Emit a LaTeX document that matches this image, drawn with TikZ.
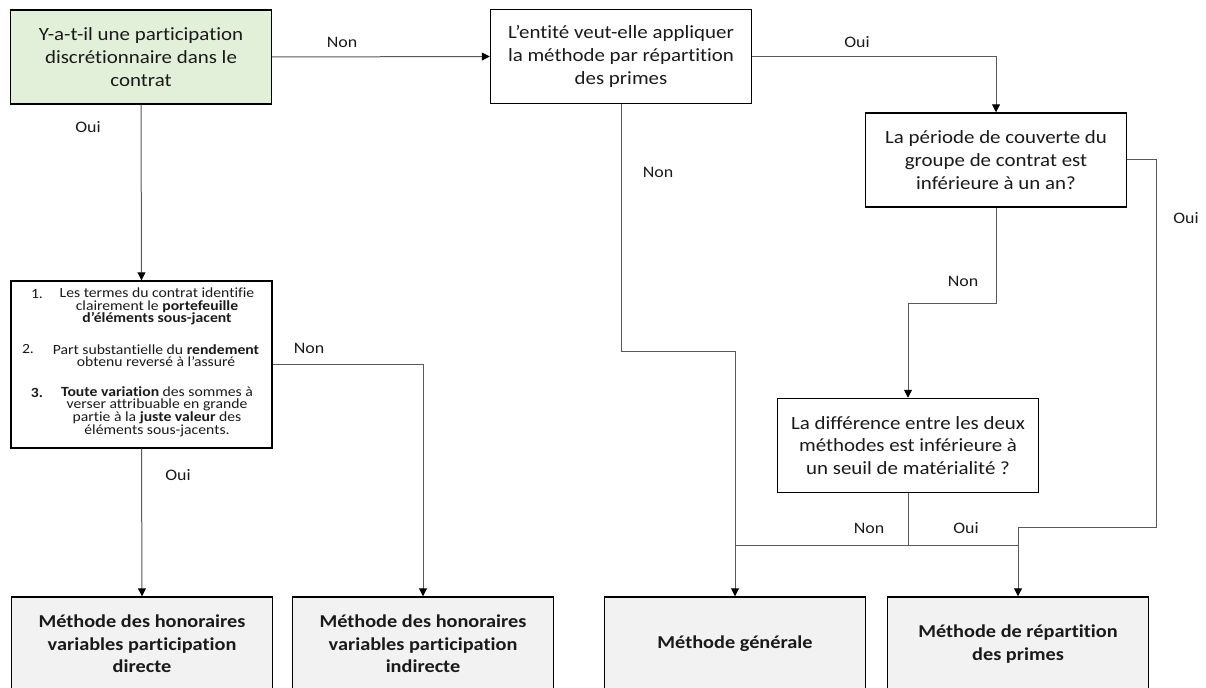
\documentclass[tikz,border=0pt]{standalone}
\usepackage{fontspec}
\setmainfont{Carlito}[FakeStretch=1.12, Ligatures=NoCommon]
\usetikzlibrary{arrows.meta}
\definecolor{boxgreen}{HTML}{E2F0D9}
\definecolor{boxgray}{HTML}{F2F2F2}
\definecolor{wirecol}{HTML}{595959}
\definecolor{ink}{HTML}{1A1A1A}

\begin{document}
\begin{tikzpicture}[x=0.75pt,y=-0.75pt,
  box/.style={draw=black, line width=1.1pt, minimum width=195.75pt,
    minimum height=70.5pt, inner sep=0pt, align=center,
    font=\fontsize{14}{17}\selectfont, text=ink},
  question/.style={box, fill=white},
  startbox/.style={box, fill=boxgreen},
  result/.style={box, fill=boxgray, font=\fontsize{13.6}{17}\selectfont\bfseries},
  critbox/.style={box, fill=white, minimum height=125.25pt},
  wire/.style={draw=wirecol, line width=0.75pt},
  arrow/.style={wire, -{Triangle[length=6pt,width=6pt,color=black]}},
  lbl/.style={font=\fontsize{12}{14}\selectfont, text=ink, inner sep=0pt},
  crit/.style={font=\fontsize{10.5}{9.4}\selectfont, align=center, text=ink, inner sep=0pt},
  num/.style={font=\fontsize{10.5}{9.4}\selectfont, text=ink, inner sep=0pt},
]
\useasboundingbox (0,0) rectangle (1206,688);

% decision boxes
\node[startbox] (A) at (141,57) {Y-a-t-il une participation\\discrétionnaire dans le\\contrat};
\node[question] (B) at (621,56.5) {L’entité veut-elle appliquer\\la méthode par répartition\\des primes};
\node[question] (C) at (996,160) {La période de couverte du\\groupe de contrat est\\inférieure à un an?};
\node[question] (D) at (908,445.5) {La différence entre les deux\\méthodes est inférieure à\\un seuil de matérialité ?};

% criteria box
\node[critbox] (E) at (141.5,364.5) {};
\node[num] (n1) at (37,294) {1.};
\node[crit] (t1) at (157,306.5) {Les termes du contrat identifie\\clairement le \textbf{portefeuille}\\\textbf{d’éléments sous-jacent}};
\node[num] (n2) at (28,349) {2.};
\node[crit] (t2) at (156,355.5) {Part substantielle du \textbf{rendement}\\obtenu reversé à l’assuré};
\node[num] (n3) at (37,393) {\textbf{3.}};
\node[crit] (t3) at (157,411.5) {\textbf{Toute variation} des sommes à\\verser attribuable en grande\\partie à la \textbf{juste valeur} des\\éléments sous-jacents.};

% outcome boxes
\node[result] (F1) at (142,644) {Méthode des honoraires\\variables participation\\directe};
\node[result] (F2) at (423,644) {Méthode des honoraires\\variables participation\\indirecte};
\node[result] (F3) at (735,644) {Méthode générale};
\node[result] (F4) at (1018,644) {Méthode de répartition\\des primes};

% turning points
\coordinate (bturn) at (621,351);
\coordinate (cturn) at (996,303);
\coordinate (rturn) at (1156,527);
\coordinate (jn) at (908,545);

% connectors
\draw[arrow] (A.east) -- (B.west);
\draw[arrow] (A.south) -- (E.north);
\draw[arrow] (E.south) -- (F1.north);
\draw[arrow] (E.east) -| (F2.north);
\draw[arrow] (B.east) -| (C.north);
\draw[arrow] (B.south) -- (bturn) -| (F3.north);
\draw[arrow] (C.south) -- (cturn) -| (D.north);
\draw[arrow] (C.east) -| (rturn) -| (F4.north);
\draw[wire] (D.south) -- (jn);
\draw[wire] (F3.north |- jn) -- (F4.north |- jn);

% branch labels
\node[lbl] (l1) at (342,42) {Non};
\node[lbl] (l2) at (88,127) {Oui};
\node[lbl] (l3) at (857,42) {Oui};
\node[lbl] (l4) at (658,172) {Non};
\node[lbl] (l5) at (1186,218) {Oui};
\node[lbl] (l6) at (963,281) {Non};
\node[lbl] (l7) at (309,348) {Non};
\node[lbl] (l8) at (178,475) {Oui};
\node[lbl] (l9) at (869,528) {Non};
\node[lbl] (l10) at (966,528) {Oui};
\end{tikzpicture}
\end{document}
